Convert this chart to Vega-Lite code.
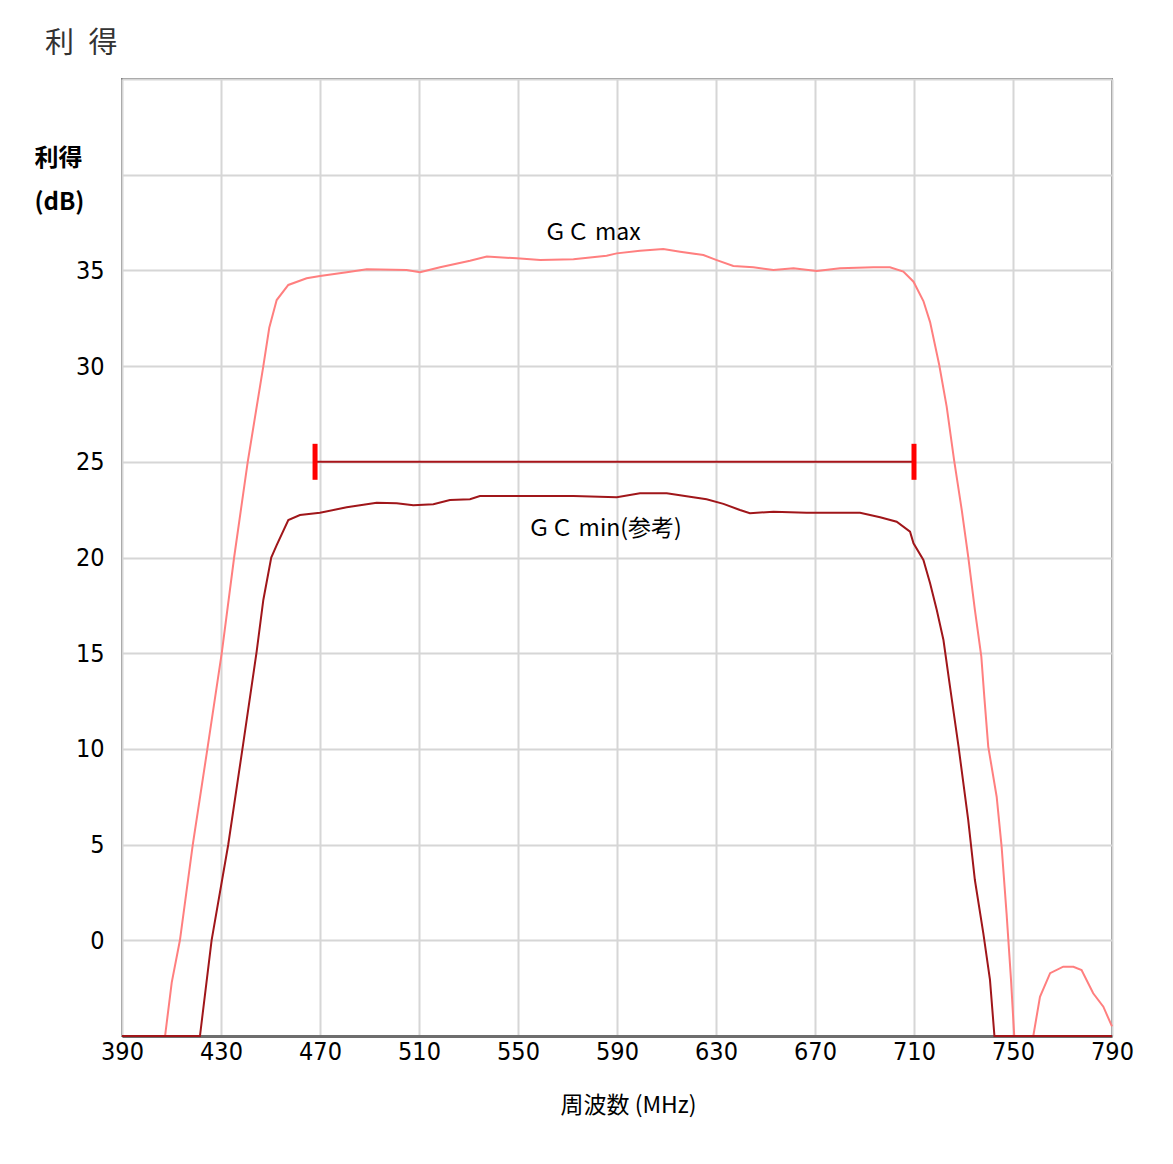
{
  "$schema": "https://vega.github.io/schema/vega-lite/v6.json",
  "width": 990,
  "height": 957,
  "autosize": {"type": "none"},
  "padding": {"left": 122, "top": 79, "right": 61, "bottom": 128},
  "background": "white",
  "title": {"text": "利\u2002得", "anchor": "start", "frame": "group", "dx": -77, "offset": 20, "fontSize": 29, "font": "Noto Sans CJK JP", "fontWeight": "normal", "color": "#333333"},
  "config": {
    "view": {"stroke": "#808080", "strokeWidth": 2},
    "axis": {"gridColor": "#d6d6d6", "gridWidth": 2, "ticks": false, "labelColor": "#000000", "titleColor": "#000000"}
  },
  "datasets": {
    "curves": [
      {"series": "max", "f": 390, "v": -5},
      {"series": "max", "f": 407.4, "v": -5},
      {"series": "max", "f": 410.1, "v": -2.2},
      {"series": "max", "f": 413.4, "v": 0},
      {"series": "max", "f": 418.6, "v": 5},
      {"series": "max", "f": 424.5, "v": 10},
      {"series": "max", "f": 430.3, "v": 15},
      {"series": "max", "f": 435.3, "v": 20},
      {"series": "max", "f": 440.8, "v": 25},
      {"series": "max", "f": 447.1, "v": 30},
      {"series": "max", "f": 449.5, "v": 32},
      {"series": "max", "f": 452.5, "v": 33.45},
      {"series": "max", "f": 457.2, "v": 34.24},
      {"series": "max", "f": 464.6, "v": 34.59},
      {"series": "max", "f": 470, "v": 34.71},
      {"series": "max", "f": 480.8, "v": 34.9},
      {"series": "max", "f": 488.9, "v": 35.06},
      {"series": "max", "f": 505, "v": 35.02},
      {"series": "max", "f": 510.4, "v": 34.9},
      {"series": "max", "f": 518.5, "v": 35.16},
      {"series": "max", "f": 530.6, "v": 35.5},
      {"series": "max", "f": 537.4, "v": 35.72},
      {"series": "max", "f": 549.5, "v": 35.63},
      {"series": "max", "f": 559, "v": 35.54},
      {"series": "max", "f": 572.4, "v": 35.58},
      {"series": "max", "f": 585.8, "v": 35.77},
      {"series": "max", "f": 589.9, "v": 35.89},
      {"series": "max", "f": 599.3, "v": 36.03},
      {"series": "max", "f": 608.7, "v": 36.12},
      {"series": "max", "f": 615.5, "v": 35.98},
      {"series": "max", "f": 624.9, "v": 35.8},
      {"series": "max", "f": 630.3, "v": 35.54},
      {"series": "max", "f": 637, "v": 35.23},
      {"series": "max", "f": 645.1, "v": 35.16},
      {"series": "max", "f": 653.2, "v": 35.02},
      {"series": "max", "f": 661.3, "v": 35.11},
      {"series": "max", "f": 670.7, "v": 34.97},
      {"series": "max", "f": 680.1, "v": 35.11},
      {"series": "max", "f": 693.6, "v": 35.16},
      {"series": "max", "f": 700.3, "v": 35.16},
      {"series": "max", "f": 705.7, "v": 34.94},
      {"series": "max", "f": 709.8, "v": 34.41},
      {"series": "max", "f": 713.8, "v": 33.4},
      {"series": "max", "f": 716.5, "v": 32.3},
      {"series": "max", "f": 720.2, "v": 30.06},
      {"series": "max", "f": 723.2, "v": 27.88},
      {"series": "max", "f": 726.2, "v": 25.09},
      {"series": "max", "f": 729.3, "v": 22.48},
      {"series": "max", "f": 731.9, "v": 20.04},
      {"series": "max", "f": 734.6, "v": 17.26},
      {"series": "max", "f": 737.2, "v": 14.82},
      {"series": "max", "f": 738.4, "v": 12.73},
      {"series": "max", "f": 740, "v": 10.12},
      {"series": "max", "f": 743.4, "v": 7.5},
      {"series": "max", "f": 745.4, "v": 4.89},
      {"series": "max", "f": 747.4, "v": 1.41},
      {"series": "max", "f": 749.2, "v": -2.07},
      {"series": "max", "f": 750.5, "v": -5},
      {"series": "max", "f": 758.2, "v": -5},
      {"series": "max", "f": 760.9, "v": -2.95},
      {"series": "max", "f": 765, "v": -1.72},
      {"series": "max", "f": 770.3, "v": -1.38},
      {"series": "max", "f": 774.4, "v": -1.38},
      {"series": "max", "f": 777.7, "v": -1.55},
      {"series": "max", "f": 782.4, "v": -2.77},
      {"series": "max", "f": 786.5, "v": -3.47},
      {"series": "max", "f": 790, "v": -4.5},
      {"series": "min", "f": 390, "v": -5},
      {"series": "min", "f": 421.5, "v": -5},
      {"series": "min", "f": 426.2, "v": 0},
      {"series": "min", "f": 432.9, "v": 4.98},
      {"series": "min", "f": 438.8, "v": 10.12},
      {"series": "min", "f": 444.4, "v": 15.08},
      {"series": "min", "f": 447.1, "v": 17.78},
      {"series": "min", "f": 450.3, "v": 20},
      {"series": "min", "f": 452.5, "v": 20.65},
      {"series": "min", "f": 457.2, "v": 21.96},
      {"series": "min", "f": 461.9, "v": 22.22},
      {"series": "min", "f": 470, "v": 22.34},
      {"series": "min", "f": 480.8, "v": 22.62},
      {"series": "min", "f": 492.9, "v": 22.86},
      {"series": "min", "f": 501, "v": 22.83},
      {"series": "min", "f": 507.7, "v": 22.73},
      {"series": "min", "f": 515.8, "v": 22.78},
      {"series": "min", "f": 522.5, "v": 23.0},
      {"series": "min", "f": 530.6, "v": 23.04},
      {"series": "min", "f": 534.6, "v": 23.21},
      {"series": "min", "f": 549.5, "v": 23.21},
      {"series": "min", "f": 572.4, "v": 23.21},
      {"series": "min", "f": 589.9, "v": 23.15},
      {"series": "min", "f": 599.3, "v": 23.36},
      {"series": "min", "f": 610.1, "v": 23.36},
      {"series": "min", "f": 620.8, "v": 23.15},
      {"series": "min", "f": 626.2, "v": 23.04},
      {"series": "min", "f": 633, "v": 22.8},
      {"series": "min", "f": 639.7, "v": 22.48},
      {"series": "min", "f": 643.7, "v": 22.31},
      {"series": "min", "f": 653.2, "v": 22.39},
      {"series": "min", "f": 666.6, "v": 22.34},
      {"series": "min", "f": 688.2, "v": 22.34},
      {"series": "min", "f": 696.3, "v": 22.1},
      {"series": "min", "f": 703, "v": 21.87},
      {"series": "min", "f": 708.4, "v": 21.35},
      {"series": "min", "f": 709.8, "v": 20.74},
      {"series": "min", "f": 713.8, "v": 19.87},
      {"series": "min", "f": 716.5, "v": 18.65},
      {"series": "min", "f": 719.2, "v": 17.26},
      {"series": "min", "f": 721.9, "v": 15.69},
      {"series": "min", "f": 724.6, "v": 13.2},
      {"series": "min", "f": 728, "v": 10.12},
      {"series": "min", "f": 731.9, "v": 6.29},
      {"series": "min", "f": 734.6, "v": 3.15},
      {"series": "min", "f": 738, "v": 0.37},
      {"series": "min", "f": 740.7, "v": -2.07},
      {"series": "min", "f": 742.5, "v": -5},
      {"series": "min", "f": 790, "v": -5}
    ],
    "band": [{"f1": 468, "f2": 710, "v": 25}],
    "caps": [{"f": 468, "lo": 24.06, "hi": 25.94}, {"f": 710, "lo": 24.06, "hi": 25.94}],
    "labels": [
      {"f": 580, "v": 36.95, "text": "ＧＣ max"},
      {"f": 585, "v": 21.5, "text": "ＧＣ min(参考)"}
    ]
  },
  "layer": [
    {
      "data": {"name": "curves"},
      "mark": {"type": "line", "strokeWidth": 2, "clip": false, "interpolate": "linear"},
      "encoding": {
        "x": {
          "field": "f", "type": "quantitative",
          "scale": {"domain": [390, 790], "nice": false, "zero": false},
          "axis": {
            "values": [390, 430, 470, 510, 550, 590, 630, 670, 710, 750, 790],
            "labelFlush": false, "labelOverlap": false,
            "title": "周波数 (MHz)", "titleFont": "Noto Sans CJK JP", "titleFontSize": 23, "titleFontWeight": "normal", "titlePadding": 30, "titleX": 506,
            "labelFont": "Liberation Sans Narrow, DejaVu Sans Condensed, sans-serif", "labelFontSize": 25, "labelPadding": 3,
            "domain": true, "domainColor": "#6e6e6e", "domainWidth": 3
          }
        },
        "y": {
          "field": "v", "type": "quantitative",
          "scale": {"domain": [-5, 45], "nice": false, "zero": false},
          "axis": {
            "values": [-5, 0, 5, 10, 15, 20, 25, 30, 35, 40, 45],
            "labelExpr": "datum.value >= 0 && datum.value <= 35 ? datum.label : ''",
            "labelFont": "Liberation Sans Narrow, DejaVu Sans Condensed, sans-serif", "labelFontSize": 25, "labelPadding": 18,
            "domain": false,
            "title": ["利得", "(dB)"], "titleAngle": 0, "titleAlign": "left", "titleBaseline": "top",
            "titleX": -88, "titleY": 67, "titleFont": "Noto Sans CJK JP", "titleFontSize": 24, "titleFontWeight": "bold", "titleLineHeight": 44
          }
        },
        "color": {
          "field": "series", "type": "nominal",
          "scale": {"domain": ["max", "min"], "range": ["#ff7f7f", "#a0161a"]},
          "legend": null
        },
        "order": {"field": "f", "type": "quantitative"}
      }
    },
    {
      "data": {"name": "band"},
      "mark": {"type": "rule", "color": "#a8141a", "strokeWidth": 2},
      "encoding": {
        "x": {"field": "f1", "type": "quantitative"},
        "x2": {"field": "f2"},
        "y": {"field": "v", "type": "quantitative"}
      }
    },
    {
      "data": {"name": "caps"},
      "mark": {"type": "rule", "color": "#ff0000", "strokeWidth": 5},
      "encoding": {
        "x": {"field": "f", "type": "quantitative"},
        "y": {"field": "lo", "type": "quantitative"},
        "y2": {"field": "hi"}
      }
    },
    {
      "data": {"name": "labels"},
      "mark": {"type": "text", "font": "Noto Sans CJK JP", "fontSize": 23, "color": "#000000", "align": "center", "baseline": "middle"},
      "encoding": {
        "x": {"field": "f", "type": "quantitative"},
        "y": {"field": "v", "type": "quantitative"},
        "text": {"field": "text"}
      }
    }
  ]
}
